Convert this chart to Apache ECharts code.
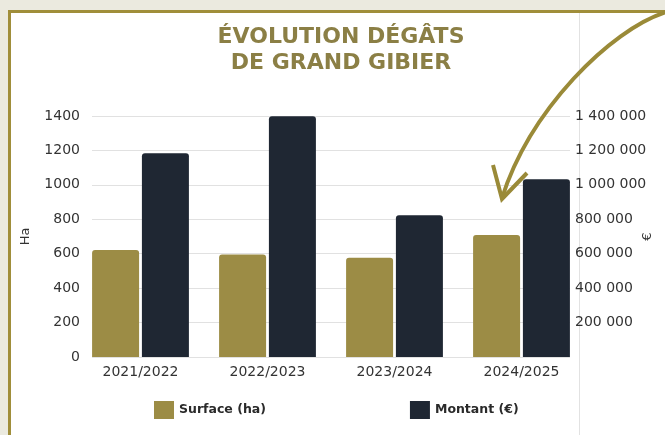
<!DOCTYPE html>
<html>
<head>
<meta charset="utf-8">
<script src="https://cdn.jsdelivr.net/npm/echarts@6/dist/echarts.min.js"></script>
<style>
  html, body { margin: 0; padding: 0; background: #ebeadf; overflow: hidden; }
  #frame {
    position: absolute; left: 8px; top: 10px; width: 700px; height: 500px;
    background: #fff; border: 3px solid #a08e3a;
  }
  #divider { position: absolute; left: 579px; top: 13px; width: 1px; height: 430px; background: #e2e2e2; }
  #main { position: absolute; left: 0; top: 0; width: 665px; height: 435px; }
</style>
</head>
<body>
<div id="frame"></div>
<div id="divider"></div>
<div id="main"></div>
<script>
const categories = ['2021/2022', '2022/2023', '2023/2024', '2024/2025']
const surfaceHa = [621, 596, 576, 708]
const montantEur = [1183000, 1398000, 824000, 1032000]
const haTicks = [0, 1400, 200]
const eurTicks = [0, 1400000, 200000]

const gold = '#9c8c45'
const navy = '#1f2733'
const font = 'DejaVu Sans'

function spaced(v) {
  return String(v).replace(/\B(?=(\d{3})+(?!\d))/g, ' ')
}

const chart = echarts.init(document.getElementById('main'))
chart.setOption({
  backgroundColor: 'transparent',
  animation: false,
  textStyle: { fontFamily: font },
  title: {
    text: 'ÉVOLUTION DÉGÂTS\nDE GRAND GIBIER',
    left: 341, top: 24, textAlign: 'center', padding: 0,
    textStyle: { color: '#8b7f45', fontSize: 22, fontWeight: 'bold', lineHeight: 26, fontFamily: font }
  },
  legend: {
    left: 154, top: 401, padding: 0, itemWidth: 20, itemHeight: 18, itemGap: 144,
    icon: 'rect',
    textStyle: { color: '#2a2a2a', fontSize: 12.5, fontWeight: 'bold', fontFamily: font }
  },
  // grid 0 carries the visible value axes, grid 1 the bars
  grid: [
    { left: 92, right: 95, top: 116, bottom: 78, outerBoundsMode: 'none' },
    { left: 77, right: 80, top: 116, bottom: 78, outerBoundsMode: 'none' }
  ],
  xAxis: [
    { gridIndex: 0, type: 'category', data: categories, show: false },
    {
      gridIndex: 1, type: 'category', data: categories,
      axisLine: { show: false }, axisTick: { show: false },
      axisLabel: { color: '#333', fontSize: 14, margin: 8 }
    }
  ],
  yAxis: [
    {
      gridIndex: 0, type: 'value', position: 'left',
      min: haTicks[0], max: haTicks[1], interval: haTicks[2],
      name: 'Ha', nameLocation: 'middle', nameGap: 60, nameRotate: 90, nameMoveOverlap: false,
      nameTextStyle: { color: '#333', fontSize: 13 },
      axisLine: { show: false }, axisTick: { show: false },
      axisLabel: { color: '#333', fontSize: 14, margin: 12, formatter: v => String(v) },
      splitLine: { lineStyle: { color: '#e1e1e1', width: 1 } }
    },
    {
      gridIndex: 0, type: 'value', position: 'right',
      min: eurTicks[0], max: eurTicks[1], interval: eurTicks[2],
      name: '€', nameLocation: 'middle', nameGap: 71, nameRotate: 90, nameMoveOverlap: false,
      nameTextStyle: { color: '#333', fontSize: 13 },
      axisLine: { show: false }, axisTick: { show: false }, splitLine: { show: false },
      axisLabel: { color: '#333', fontSize: 14, margin: 5, formatter: v => v === 0 ? '' : spaced(v) }
    },
    { gridIndex: 1, type: 'value', min: haTicks[0], max: haTicks[1], show: false },
    { gridIndex: 1, type: 'value', min: eurTicks[0], max: eurTicks[1], show: false }
  ],
  series: [
    {
      name: 'Surface (ha)', type: 'bar', xAxisIndex: 1, yAxisIndex: 2,
      data: surfaceHa, barWidth: 47, barGap: '6%',
      itemStyle: { color: gold, borderRadius: [3, 3, 0, 0] }
    },
    {
      name: 'Montant (€)', type: 'bar', xAxisIndex: 1, yAxisIndex: 3,
      data: montantEur, barWidth: 47, barGap: '6%',
      itemStyle: { color: navy, borderRadius: [3, 3, 0, 0] }
    }
  ],
  graphic: [
    {
      type: 'bezierCurve', z: 100,
      shape: { x1: 666, y1: 12, cpx1: 610, cpy1: 30, cpx2: 530, cpy2: 110, x2: 502, y2: 198 },
      style: { stroke: '#9a8a38', lineWidth: 4, fill: null }
    },
    {
      type: 'polyline', z: 100,
      shape: { points: [[493, 165], [502, 199], [527, 173]] },
      style: { stroke: '#9a8a38', lineWidth: 4, fill: null, lineJoin: 'miter' }
    }
  ]
})
</script>
</body>
</html>
